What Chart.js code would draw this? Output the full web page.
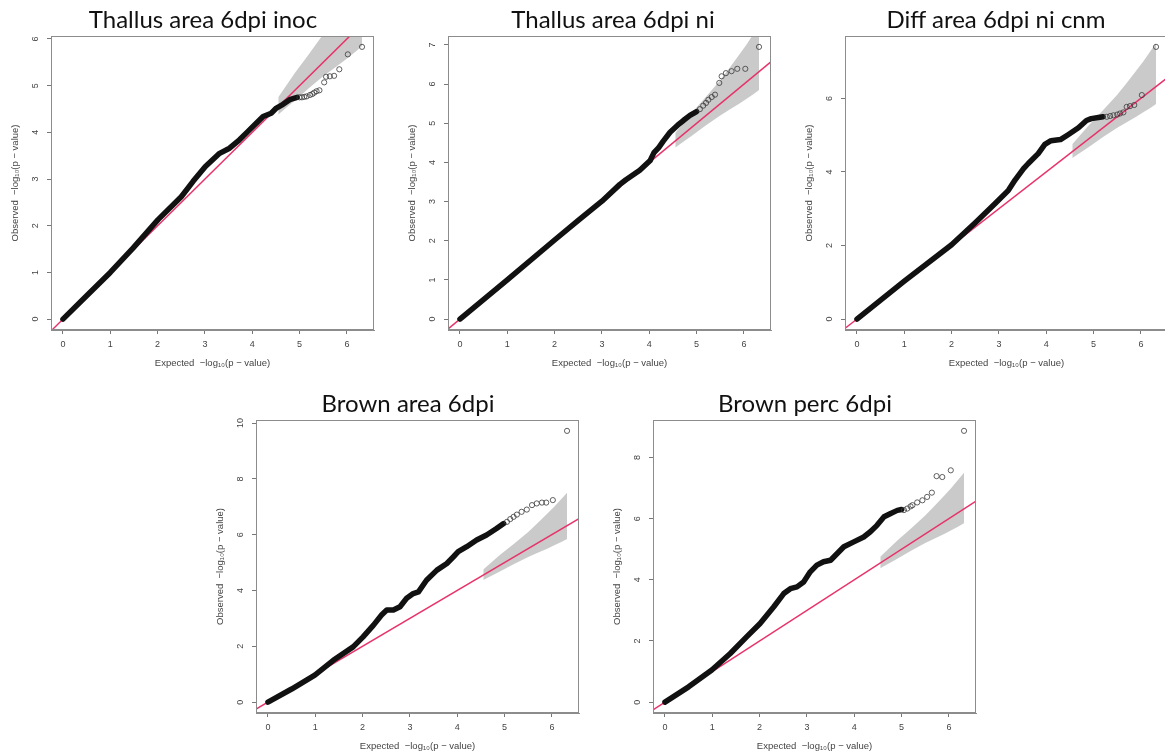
<!DOCTYPE html>
<html>
<head>
<meta charset="utf-8">
<script src="https://cdn.jsdelivr.net/npm/chart.js@4.4.1/dist/chart.umd.min.js"></script>
<style>
  html, body { margin: 0; padding: 0; background: #fff; }
  body { position: relative; width: 1165px; height: 756px; overflow: hidden; }
  .plot { position: absolute; }
  .ttl {
    position: absolute;
    font-family: Lato, "Open Sans", sans-serif;
    font-size: 24px;
    line-height: 24px;
    color: #111;
    white-space: nowrap;
    transform: translateX(-50%);
  }
</style>
</head>
<body>
<script>
// ---- shared axis values ----
const expectedTicks = [0, 1, 2, 3, 4, 5, 6];
const identityLine = [-1, 11];          // y = x reference line end points

// 95% confidence band of the expected -log10(p) under the null
const bandX     = [4.55, 4.9, 5.2, 5.5, 5.7, 5.9, 6.05, 6.2, 6.32];
const bandUpper = [4.75, 5.27, 5.68, 6.1, 6.42, 6.75, 7.0, 7.28, 7.5];
const bandLower = [4.38, 4.68, 4.95, 5.2, 5.35, 5.5, 5.62, 5.74, 5.85];

const panelTitles = [
  'Thallus area 6dpi inoc',
  'Thallus area 6dpi ni',
  'Diff area 6dpi ni cnm',
  'Brown area 6dpi',
  'Brown perc 6dpi'
];

// ---- Thallus area 6dpi inoc ----
const inocX = [0, 0.5, 1.0, 1.48, 2.01, 2.5, 2.75, 3.01, 3.31, 3.52, 3.73, 3.91, 4.09, 4.23, 4.4, 4.51, 4.65, 4.79, 4.95];
const inocY = [0, 0.5, 1.0, 1.52, 2.13, 2.62, 2.95, 3.27, 3.55, 3.66, 3.84, 4.02, 4.2, 4.34, 4.41, 4.52, 4.6, 4.7, 4.75];
const inocTailX = [5.0, 5.05, 5.1, 5.15, 5.22, 5.27, 5.31, 5.36, 5.42, 5.52, 5.56, 5.64, 5.73, 5.84, 6.02, 6.32];
const inocTailY = [4.75, 4.75, 4.76, 4.77, 4.8, 4.82, 4.85, 4.88, 4.9, 5.07, 5.19, 5.2, 5.21, 5.35, 5.67, 5.83];
const inocYTicks = [0, 1, 2, 3, 4, 5, 6];

// ---- Thallus area 6dpi ni ----
const niX = [0, 1, 2, 2.5, 3, 3.38, 3.5, 3.8, 4.02, 4.1, 4.2, 4.3, 4.44, 4.6, 4.72, 4.86, 5.0];
const niY = [0, 1.0, 2.02, 2.52, 3.01, 3.44, 3.55, 3.8, 4.05, 4.25, 4.38, 4.55, 4.77, 4.95, 5.07, 5.2, 5.3];
const niTailX = [5.07, 5.14, 5.2, 5.25, 5.32, 5.39, 5.48, 5.53, 5.62, 5.74, 5.86, 6.03, 6.32];
const niTailY = [5.36, 5.45, 5.52, 5.6, 5.67, 5.73, 6.03, 6.2, 6.28, 6.33, 6.39, 6.39, 6.95];
const niYTicks = [0, 1, 2, 3, 4, 5, 6, 7];

// ---- Diff area 6dpi ni cnm ----
const diffX = [0, 1.0, 2.0, 2.5, 2.92, 3.2, 3.34, 3.52, 3.62, 3.83, 3.97, 4.1, 4.3, 4.47, 4.68, 4.85, 4.95, 5.1, 5.2];
const diffY = [0, 1.03, 2.02, 2.62, 3.14, 3.5, 3.78, 4.09, 4.23, 4.5, 4.75, 4.85, 4.88, 5.02, 5.2, 5.4, 5.45, 5.48, 5.5];
const diffTailX = [5.28, 5.35, 5.42, 5.5, 5.56, 5.63, 5.7, 5.77, 5.86, 6.02, 6.32];
const diffTailY = [5.5, 5.52, 5.54, 5.56, 5.59, 5.62, 5.77, 5.79, 5.82, 6.09, 7.4];
const diffYTicks = [0, 2, 4, 6];

// ---- Brown area 6dpi ----
const brownX = [0, 0.5, 0.99, 1.38, 1.8, 2.01, 2.23, 2.4, 2.51, 2.65, 2.79, 2.93, 3.07, 3.18, 3.35, 3.57, 3.78, 3.92, 4.02, 4.2, 4.41, 4.62, 4.83, 4.98];
const brownY = [0, 0.47, 0.97, 1.5, 1.98, 2.34, 2.76, 3.12, 3.3, 3.3, 3.42, 3.72, 3.89, 3.95, 4.37, 4.73, 4.97, 5.21, 5.39, 5.57, 5.81, 5.99, 6.22, 6.4];
const brownTailX = [5.05, 5.12, 5.19, 5.26, 5.36, 5.47, 5.58, 5.68, 5.79, 5.88, 6.02, 6.32];
const brownTailY = [6.46, 6.56, 6.64, 6.72, 6.82, 6.9, 7.06, 7.12, 7.15, 7.15, 7.24, 9.72];
const brownYTicks = [0, 2, 4, 6, 8, 10];

// ---- Brown perc 6dpi ----
const percX = [0, 0.5, 0.99, 1.38, 1.73, 2.01, 2.3, 2.51, 2.65, 2.79, 2.93, 3.07, 3.21, 3.35, 3.5, 3.64, 3.78, 3.99, 4.2, 4.34, 4.48, 4.63, 4.77, 4.91, 5.0];
const percY = [0, 0.5, 1.05, 1.59, 2.14, 2.57, 3.12, 3.55, 3.71, 3.77, 3.93, 4.26, 4.48, 4.59, 4.64, 4.86, 5.08, 5.24, 5.4, 5.57, 5.78, 6.06, 6.17, 6.27, 6.3];
const percTailX = [5.05, 5.12, 5.19, 5.23, 5.33, 5.44, 5.54, 5.64, 5.74, 5.86, 6.04, 6.32];
const percTailY = [6.28, 6.33, 6.4, 6.44, 6.53, 6.6, 6.71, 6.85, 7.39, 7.36, 7.58, 8.87];
const percYTicks = [0, 2, 4, 6, 8];

// ---- panel layout (page pixels of each plot box) ----
const panels = [
  { title: panelTitles[0], x: inocX,  y: inocY,  tx: inocTailX,  ty: inocTailY,  yTicks: inocYTicks,
    yMin: -0.233, yMax: 6.063, box: { l: 51,  t: 36,  w: 323, h: 294 }, titleCx: 203, titleTop: 6.7,   tickPad: 8.5 },
  { title: panelTitles[1], x: niX,    y: niY,    tx: niTailX,    ty: niTailY,    yTicks: niYTicks,
    yMin: -0.278, yMax: 7.228, box: { l: 448, t: 36,  w: 323, h: 294 }, titleCx: 613, titleTop: 6.7,   tickPad: 8.5 },
  { title: panelTitles[2], x: diffX,  y: diffY,  tx: diffTailX,  ty: diffTailY,  yTicks: diffYTicks,
    yMin: -0.296, yMax: 7.696, box: { l: 845, t: 36,  w: 323, h: 294 }, titleCx: 996, titleTop: 6.7,   tickPad: 8.5 },
  { title: panelTitles[3], x: brownX, y: brownY, tx: brownTailX, ty: brownTailY, yTicks: brownYTicks,
    yMin: -0.389, yMax: 10.11, box: { l: 256, t: 420, w: 323, h: 293 }, titleCx: 408, titleTop: 390.7, tickPad: 6 },
  { title: panelTitles[4], x: percX,  y: percY,  tx: percTailX,  ty: percTailY,  yTicks: percYTicks,
    yMin: -0.355, yMax: 9.225, box: { l: 653, t: 420, w: 323, h: 293 }, titleCx: 805, titleTop: 390.7, tickPad: 8.5 }
];

const Y_AXIS_W = 52, X_AXIS_H = 50, TOP_PAD = 36, RIGHT_PAD = 6;
const axisFont = { family: '"Liberation Sans", Arial, sans-serif', size: 9 };
const axisTitleFont = { family: '"Liberation Sans", "DejaVu Sans", Arial, sans-serif', size: 9.5 };

const toPts = (xs, ys) => xs.map((v, i) => ({ x: v, y: ys[i] }));

// grey box round the plotting region
const framePlugin = {
  id: 'frame',
  afterDatasetsDraw(chart) {
    const { ctx, chartArea: a } = chart;
    ctx.save();
    ctx.strokeStyle = '#8c8c8c';
    ctx.lineWidth = 1;
    ctx.strokeRect(Math.round(a.left) + 0.5, Math.round(a.top) + 0.5,
                   Math.round(a.right - a.left) - 1, Math.round(a.bottom - a.top) - 1);
    ctx.restore();
  }
};

panels.forEach(p => {
  const canvas = document.createElement('canvas');
  const cw = Y_AXIS_W + p.box.w + RIGHT_PAD;
  const ch = TOP_PAD + p.box.h + X_AXIS_H;
  canvas.width = cw;
  canvas.height = ch;
  canvas.className = 'plot';
  canvas.style.left = (p.box.l - Y_AXIS_W) + 'px';
  canvas.style.top = (p.box.t - TOP_PAD) + 'px';
  canvas.style.width = cw + 'px';
  canvas.style.height = ch + 'px';
  document.body.appendChild(canvas);

  const ttl = document.createElement('div');
  ttl.className = 'ttl';
  ttl.textContent = p.title;
  ttl.style.left = p.titleCx + 'px';
  ttl.style.top = p.titleTop + 'px';
  document.body.appendChild(ttl);

  new Chart(canvas, {
    type: 'line',
    data: {
      datasets: [
        { label: 'observed (tail)', data: toPts(p.tx, p.ty), showLine: false,
          pointRadius: 2.6, pointBorderWidth: 0.8, pointBorderColor: '#3a3a3a',
          pointBackgroundColor: 'rgba(0,0,0,0)' },
        { label: 'observed', data: toPts(p.x, p.y), borderColor: '#111', borderWidth: 5.5,
          pointRadius: 0, borderCapStyle: 'round', borderJoinStyle: 'round', fill: false },
        { label: 'expected', data: toPts(identityLine, identityLine), borderColor: '#e8336a',
          borderWidth: 1.5, pointRadius: 0, fill: false },
        { label: 'ci upper', data: toPts(bandX, bandUpper), borderColor: 'rgba(0,0,0,0)',
          borderWidth: 0, pointRadius: 0, fill: '+1', backgroundColor: 'rgba(150,150,150,0.5)' },
        { label: 'ci lower', data: toPts(bandX, bandLower), borderColor: 'rgba(0,0,0,0)',
          borderWidth: 0, pointRadius: 0, fill: false }
      ]
    },
    options: {
      responsive: false,
      animation: false,
      devicePixelRatio: 1,
      events: [],
      layout: { padding: { top: TOP_PAD, left: 0, right: RIGHT_PAD, bottom: 0 } },
      plugins: { legend: { display: false }, tooltip: { enabled: false }, title: { display: false } },
      scales: {
        x: {
          type: 'linear', min: -0.253, max: 6.573,
          afterBuildTicks: s => { s.ticks = expectedTicks.map(v => ({ value: v })); },
          afterFit: s => { s.height = X_AXIS_H; s.paddingLeft = 0; s.paddingRight = 0; },
          grid: { drawOnChartArea: false, drawTicks: true, tickLength: 4, tickColor: '#777', tickWidth: 1 },
          border: { display: true, color: '#8c8c8c', width: 1 },
          ticks: { padding: 5.6, color: '#444', font: axisFont, maxRotation: 0, autoSkip: false },
          title: { display: true, text: 'Expected  \u2212log\u2081\u2080(p \u2212 value)', color: '#444',
                   font: axisTitleFont, padding: { top: 0, bottom: 11.3 } }
        },
        y: {
          type: 'linear', min: p.yMin, max: p.yMax,
          afterBuildTicks: s => { s.ticks = p.yTicks.map(v => ({ value: v })); },
          afterFit: s => { s.width = Y_AXIS_W; s.paddingTop = 0; s.paddingBottom = 0; },
          grid: { drawOnChartArea: false, drawTicks: true, tickLength: 4, tickColor: '#777', tickWidth: 1 },
          border: { display: true, color: '#8c8c8c', width: 1 },
          ticks: { padding: p.tickPad, color: '#444', font: axisFont, minRotation: 90, maxRotation: 90,
                   crossAlign: 'center', autoSkip: false },
          title: { display: true, text: 'Observed  \u2212log\u2081\u2080(p \u2212 value)', color: '#444',
                   font: axisTitleFont, padding: { top: 10.3, bottom: 0 } }
        }
      }
    },
    plugins: [framePlugin]
  });
});
</script>
</body>
</html>
